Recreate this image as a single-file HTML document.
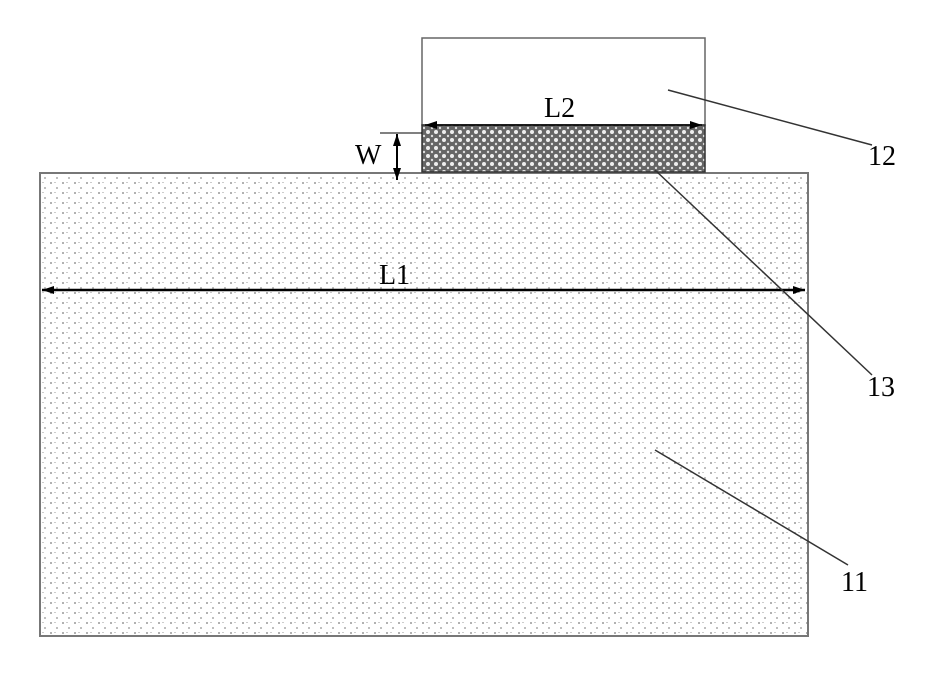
<!DOCTYPE html>
<html><head><style>html,body{margin:0;padding:0;background:#fff}</style></head>
<body>
<svg width="926" height="674" viewBox="0 0 926 674" xmlns="http://www.w3.org/2000/svg">
<defs>
<pattern id="dots" width="12" height="10" patternUnits="userSpaceOnUse">
<circle cx="3" cy="3" r="1" fill="#999"/>
<circle cx="9" cy="8" r="1" fill="#aaa"/>
<rect x="6" y="2" width="2" height="1" fill="#ccc"/>
</pattern>
<pattern id="hatch" width="8" height="8" patternUnits="userSpaceOnUse">
<rect width="8" height="8" fill="#666"/>
<circle cx="4" cy="4" r="2" fill="#eee"/>
<circle cx="0" cy="0" r="1.2" fill="#ddd"/>
<circle cx="8" cy="8" r="1.2" fill="#ddd"/>
<circle cx="0" cy="8" r="1.2" fill="#ddd"/>
<circle cx="8" cy="0" r="1.2" fill="#ddd"/>
</pattern>
<marker id="ah" markerWidth="12" markerHeight="8" refX="12" refY="4" orient="auto-start-reverse" markerUnits="userSpaceOnUse">
<path d="M0,0 L12,4 L0,8 Z" fill="#000"/>
</marker>
</defs>
<rect x="40" y="173" width="768" height="463" fill="#fff"/>
<rect x="40" y="173" width="768" height="463" fill="url(#dots)" stroke="#777" stroke-width="2"/>
<rect x="422" y="38" width="283" height="87" fill="#fff" stroke="#666" stroke-width="1.5"/>
<rect x="422" y="125" width="283" height="47" fill="url(#hatch)" stroke="#333" stroke-width="1.5"/>
<line x1="42" y1="290" x2="805" y2="290" stroke="#000" stroke-width="2.5" marker-start="url(#ah)" marker-end="url(#ah)"/>
<line x1="425" y1="125" x2="702" y2="125" stroke="#000" stroke-width="1.5" marker-start="url(#ah)" marker-end="url(#ah)"/>
<line x1="380" y1="133" x2="422" y2="133" stroke="#000" stroke-width="1"/>
<line x1="397" y1="134" x2="397" y2="180" stroke="#000" stroke-width="2" marker-start="url(#ah)" marker-end="url(#ah)"/>
<line x1="668" y1="90" x2="872" y2="145" stroke="#333" stroke-width="1.5"/>
<line x1="655" y1="170" x2="872" y2="375" stroke="#333" stroke-width="1.5"/>
<line x1="655" y1="450" x2="848" y2="565" stroke="#333" stroke-width="1.5"/>
<g font-family="Liberation Serif, serif" font-size="28" fill="#000">
<text x="544" y="117">L2</text>
<text x="355" y="164">W</text>
<text x="379" y="284">L1</text>
<text x="868" y="165">12</text>
<text x="867" y="396">13</text>
<text x="841" y="591">11</text>
</g>
</svg>
</body></html>
